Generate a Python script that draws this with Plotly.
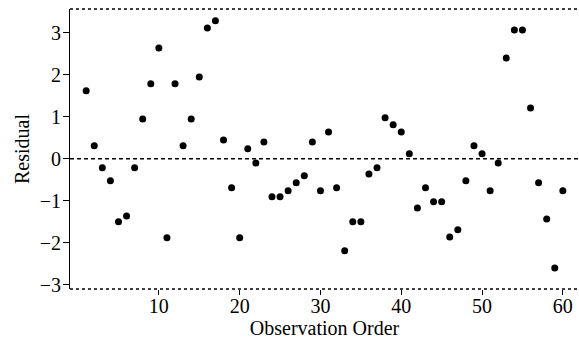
import plotly.graph_objects as go

order = list(range(1, 61))
residual = [1.62, 0.31, -0.21, -0.52, -1.5, -1.36, -0.21, 0.95, 1.79, 2.64,
            -1.88, 1.79, 0.31, 0.95, 1.95, 3.12, 3.29, 0.45, -0.69, -1.88,
            0.24, -0.1, 0.40, -0.9, -0.9, -0.76, -0.57, -0.4, 0.40, -0.76,
            0.64, -0.69, -2.19, -1.5, -1.5, -0.36, -0.21, 0.98, 0.81, 0.64,
            0.12, -1.17, -0.69, -1.02, -1.02, -1.86, -1.69, -0.52, 0.31, 0.12,
            -0.76, -0.1, 2.40, 3.07, 3.07, 1.21, -0.57, -1.43, -2.6, -0.76]
xticks = [10, 20, 30, 40, 50, 60]
yticks = [-3, -2, -1, 0, 1, 2, 3]

fig = go.Figure()
fig.add_trace(go.Scatter(x=order, y=residual, mode="markers",
                         marker=dict(symbol="circle", size=7, color="black"),
                         showlegend=False))

font = dict(family="Liberation Serif", size=20, color="black")
fig.update_layout(
    width=579, height=341,
    margin=dict(l=70, r=0, t=9, b=52),
    paper_bgcolor="white", plot_bgcolor="white",
    font=font,
    xaxis=dict(range=[-1, 62], tickvals=xticks, ticks="outside", ticklen=5,
               tickcolor="black", showgrid=False, zeroline=False, showline=False,
               ticklabelstandoff=-6,
               title=dict(text="Observation Order", standoff=0, font=font),
               tickfont=font),
    yaxis=dict(range=[-3.1, 3.57], tickvals=yticks, ticks="outside", ticklen=6,
               tickcolor="black", showgrid=False, zeroline=False, showline=True,
               linecolor="black", linewidth=1,
               ticklabelstandoff=-2,
               title=dict(text="Residual", standoff=4, font=font),
               tickfont=font),
    shapes=[
        dict(type="line", xref="paper", yref="paper", x0=0, x1=1, y0=1, y1=1,
             line=dict(color="black", width=1.5, dash="dot")),
        dict(type="line", xref="paper", yref="paper", x0=0, x1=1, y0=0, y1=0,
             line=dict(color="black", width=1.5, dash="dot")),
        dict(type="line", xref="paper", yref="y", x0=0, x1=1, y0=0, y1=0,
             line=dict(color="black", width=1.5, dash="4px,3px")),
    ],
)
fig.write_html("out.html")
